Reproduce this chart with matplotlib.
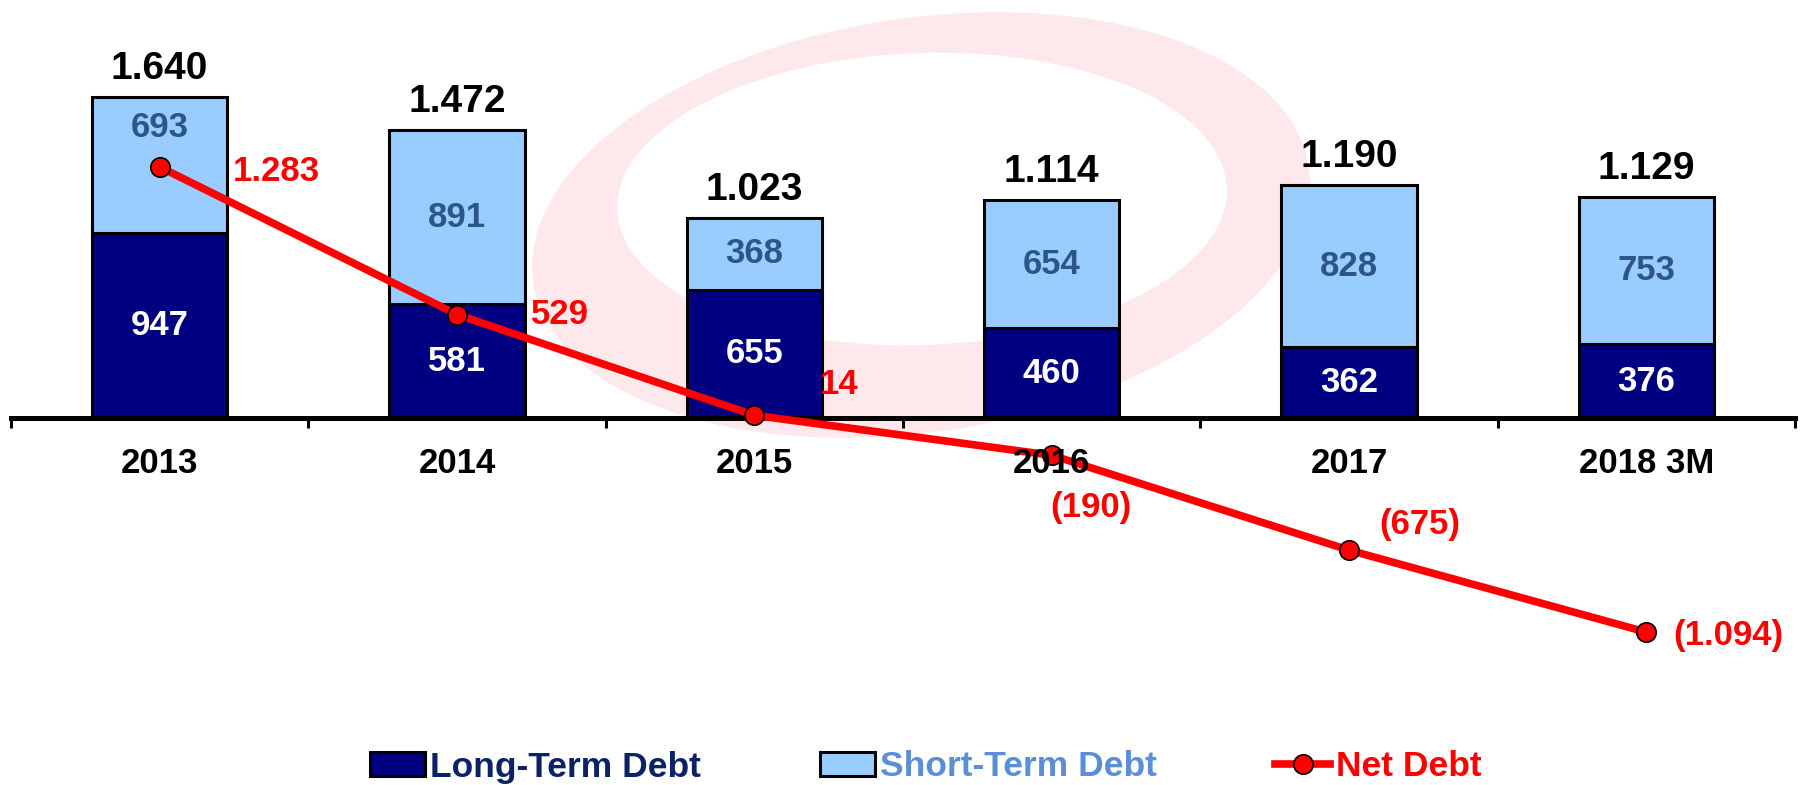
import matplotlib.pyplot as plt
from matplotlib.patches import Ellipse

plt.rcParams['font.family'] = ['Liberation Sans', 'DejaVu Sans']
plt.rcParams['font.weight'] = 'bold'

years = ['2013', '2014', '2015', '2016', '2017', '2018 3M']
long_term = [947, 581, 655, 460, 362, 376]
short_term = [693, 891, 368, 654, 828, 753]
net_debt = [1283, 529, 14, -190, -675, -1094]

# where each net debt label sits relative to its point (pixels)
net_offsets = [(73, -5), (74, 0), (65, 31), (-1, -52), (30, 26), (27, -3)]

LT_COLOR = '#000080'
ST_COLOR = '#99ccff'
ST_TEXT = '#2c5687'


def fmt(v):
    s = f'{abs(v):,}'.replace(',', '.')
    return f'({s})' if v < 0 else s


fig = plt.figure(figsize=(18.04, 7.85), dpi=100)

# faint ring watermark in the background (pixel coords)
bg = fig.add_axes([0, 0, 1, 1], zorder=0)
bg.set_xlim(0, 1804)
bg.set_ylim(785, 0)
bg.axis('off')
bg.add_patch(Ellipse((921, 225), 784, 414, angle=-8.5, color='#fde9eb', lw=0))
bg.add_patch(Ellipse((922, 199), 610, 292, angle=-2, color='white', lw=0))

ax = fig.add_axes([11 / 1804, 0, 1784 / 1804, 1], zorder=1)
ax.patch.set_alpha(0)

x = list(range(len(years)))
totals = [a + b for a, b in zip(long_term, short_term)]

b1 = ax.bar(x, long_term, width=0.455, color=LT_COLOR, edgecolor='black',
            linewidth=2.2, zorder=1, label='Long-Term Debt')
b2 = ax.bar(x, short_term, width=0.455, bottom=long_term, color=ST_COLOR,
            edgecolor='black', linewidth=2.2, zorder=1, label='Short-Term Debt')
ln, = ax.plot(x, net_debt, color='red', lw=5.5, marker='o', ms=14,
              mfc='red', mec='black', mew=1.2, zorder=2, label='Net Debt')

ax.set_xlim(-0.5, len(years) - 0.5)
ax.set_ylim(-1875, 2136)

for i in x:
    ax.text(i, long_term[i] / 2, fmt(long_term[i]), ha='center', va='center',
            color='white', fontsize=25, zorder=4)
    mid = long_term[i] + short_term[i] / 2
    if abs(mid - net_debt[i]) < 150:
        mid = totals[i] - 153
    ax.text(i, mid, fmt(short_term[i]), ha='center', va='center',
            color=ST_TEXT, fontsize=25, zorder=4)
    ax.annotate(fmt(totals[i]), (i, totals[i]), xytext=(0, 18),
                textcoords='offset pixels', ha='center', va='baseline',
                fontsize=28, color='black')
    dx, dy = net_offsets[i]
    ax.annotate(fmt(net_debt[i]), (i, net_debt[i]), xytext=(dx, dy),
                textcoords='offset pixels', ha='left', va='center',
                fontsize=25, color='red', zorder=4)

for s in ['top', 'left', 'right']:
    ax.spines[s].set_visible(False)
ax.spines['bottom'].set_position(('data', 0))
ax.spines['bottom'].set_linewidth(3.6)
ax.spines['bottom'].set_zorder(1.9)
ax.xaxis.set_zorder(2.5)

ax.set_yticks([])
ax.set_xticks(x)
ax.set_xticklabels(years, fontsize=25, fontweight='bold')
ax.set_xticks([i - 0.5 for i in range(len(years) + 1)], minor=True)
ax.tick_params(axis='x', which='major', length=0, pad=21)
ax.tick_params(axis='x', which='minor', length=7.5, width=2.2, direction='out')

leg = fig.legend([b1, b2, ln], ['Long-Term Debt', 'Short-Term Debt', 'Net Debt'],
                 loc='center left', bbox_to_anchor=(370 / 1804, 1 - 767 / 785),
                 ncol=3, frameon=False, fontsize=25.5,
                 handlelength=1.55, handleheight=0.63, handletextpad=0.15,
                 columnspacing=3.35, borderpad=0, borderaxespad=0)
for t, c in zip(leg.get_texts(), ['#0b2266', '#5b8ed8', 'red']):
    t.set_color(c)

fig.savefig('out.png', dpi=100)
